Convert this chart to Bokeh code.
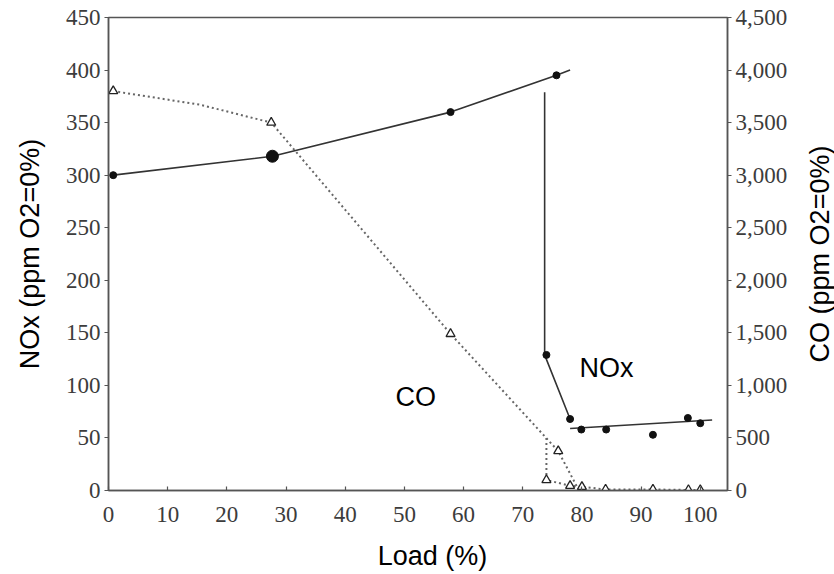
import math
from bokeh.plotting import figure
from bokeh.layouts import row, column
from bokeh.models import Range1d, LinearAxis, FixedTicker, NumeralTickFormatter, Label
from bokeh.core.properties import value
from bokeh.embed import file_html
from bokeh.resources import INLINE

# ---- data ----
load_ticks = [0, 10, 20, 30, 40, 50, 60, 70, 80, 90, 100]
nox_ticks = [0, 50, 100, 150, 200, 250, 300, 350, 400, 450]
co_ticks = [0, 500, 1000, 1500, 2000, 2500, 3000, 3500, 4000, 4500]

# NOx measurements (left axis, ppm)
nox_load = [0.8, 27.7, 57.8, 75.7, 74.0, 78.0, 79.9, 84.1, 92.0, 97.9, 100.0]
nox_ppm = [300, 318, 360, 395, 129, 68, 58, 58, 53, 69, 64]

# NOx trend lines
nox_curve_load = [0.8, 27.7, 57.8, 75.7, 78.0]
nox_curve_ppm = [300, 318, 360, 395, 400]
nox_drop_load = [73.7, 73.7, 78.0]
nox_drop_ppm = [379, 129, 68]
nox_fit_load = [78.0, 102.0]
nox_fit_ppm = [59, 67]

# CO measurements (right axis, ppm)
co_load = [0.8, 27.5, 57.8, 76.0, 74.0, 78.0, 80.0, 84.0, 92.0, 98.0, 100.0]
co_ppm = [3800, 3500, 1490, 375, 100, 45, 35, 10, 10, 5, 5]

# CO dotted trend lines
co_upper_load = [0.8, 15.5, 27.5, 57.8, 76.0, 79.5]
co_upper_ppm = [3800, 3670, 3500, 1490, 375, 0]
co_lower_load = [74.0, 74.0, 78.0, 80.0, 84.0, 92.0, 98.0, 100.0]
co_lower_ppm = [500, 100, 45, 35, 10, 10, 5, 5]

# ---- main figure ----
p = figure(width=800, height=536, output_backend="svg", toolbar_location=None,
           x_range=Range1d(0, 104.6), y_range=Range1d(0, 450),
           min_border_left=108, min_border_right=73, min_border_top=17, min_border_bottom=46)
p.title.visible = False
p.extra_y_ranges = {"co": Range1d(0, 4500)}
p.xgrid.visible = False
p.ygrid.visible = False
p.background_fill_color = "white"
p.border_fill_color = "white"
p.outline_line_color = "#555555"
p.outline_line_width = 1.5

tick_font = "Liberation Serif"
tick_size = "23px"
tick_color = "#3c3c3c"
axis_color = "#555555"
lab_font = "Liberation Sans"
lab_size = "27px"

xa = p.xaxis[0]
xa.ticker = FixedTicker(ticks=load_ticks)
ya = p.yaxis[0]
ya.ticker = FixedTicker(ticks=nox_ticks)
ra = LinearAxis(y_range_name="co", ticker=FixedTicker(ticks=co_ticks),
                formatter=NumeralTickFormatter(format="0,0"))
p.add_layout(ra, "right")

for ax in (xa, ya, ra):
    ax.major_label_text_font = tick_font
    ax.major_label_text_font_size = tick_size
    ax.major_label_text_color = tick_color
    ax.axis_line_color = axis_color
    ax.axis_line_width = 1.5
    ax.major_tick_line_color = axis_color
    ax.major_tick_line_width = 1.2
    ax.minor_tick_line_color = None
    ax.major_tick_in = 0
    ax.major_tick_out = 4
    ax.major_label_standoff = 4
    ax.axis_label_text_font = lab_font
    ax.axis_label_text_font_size = lab_size
    ax.axis_label_text_font_style = "normal"
    ax.axis_label_text_color = "black"

xa.major_tick_in = 4
xa.major_tick_out = 0
xa.major_label_standoff = 16

ya.axis_label = "NOx (ppm O2=0%)"
ya.axis_label_standoff = 18

# ---- CO (dotted, open triangles) ----
dot_color = "#666666"
p.line(co_upper_load, co_upper_ppm, y_range_name="co", line_color=dot_color,
       line_width=2, line_dash="2 3")
p.line(co_lower_load, co_lower_ppm, y_range_name="co", line_color=dot_color,
       line_width=2, line_dash="2 3")
p.scatter(co_load, co_ppm, y_range_name="co", marker="triangle", size=9,
          fill_color="white", line_color="#222222", line_width=1.3)

# ---- NOx (solid, filled circles) ----
line_color = "#333333"
p.line(nox_curve_load, nox_curve_ppm, line_color=line_color, line_width=1.6)
p.line(nox_drop_load, nox_drop_ppm, line_color=line_color, line_width=1.6)
p.line(nox_fit_load, nox_fit_ppm, line_color=line_color, line_width=1.6)
p.scatter(nox_load, nox_ppm, marker="circle", size=7, color="#111111")
p.scatter(nox_load[1:2], nox_ppm[1:2], marker="circle", size=12, color="#111111")

# ---- in-plot labels ----
p.add_layout(Label(x=51.9, y=89, text="CO", text_font=lab_font, text_font_size=lab_size,
                   text_align="center", text_baseline="alphabetic", text_color="black"))
p.add_layout(Label(x=79.6, y=117, text="NOx", text_font=lab_font, text_font_size=lab_size,
                   text_align="left", text_baseline="alphabetic", text_color="black"))


def strip(width, height):
    s = figure(width=width, height=height, output_backend="svg", toolbar_location=None,
               x_range=Range1d(0, width), y_range=Range1d(0, height), min_border=0,
               x_axis_location=None, y_axis_location=None)
    s.title.visible = False
    s.grid.visible = False
    s.outline_line_color = None
    s.background_fill_color = "white"
    s.border_fill_color = "white"
    return s


# ---- x-axis title strip (slightly right of centre, as in the original) ----
p3 = strip(800, 38)
p3.text(x=[348], y=[19], text=["Load (%)"], text_align="left", text_baseline="alphabetic",
        text_font=value(lab_font), text_font_size=value(lab_size), text_color="black")

# ---- right axis title strip (reads bottom-to-top like the original) ----
p2 = strip(34, 574)
p2.text(x=[19], y=[320.5], text=["CO (ppm O2=0%)"], angle=math.pi / 2,
        text_align="center", text_baseline="middle", text_font=value(lab_font),
        text_font_size=value(lab_size), text_color="black")

layout = row(column(p, p3), p2)
open("out.html", "w").write(file_html(layout, INLINE))
